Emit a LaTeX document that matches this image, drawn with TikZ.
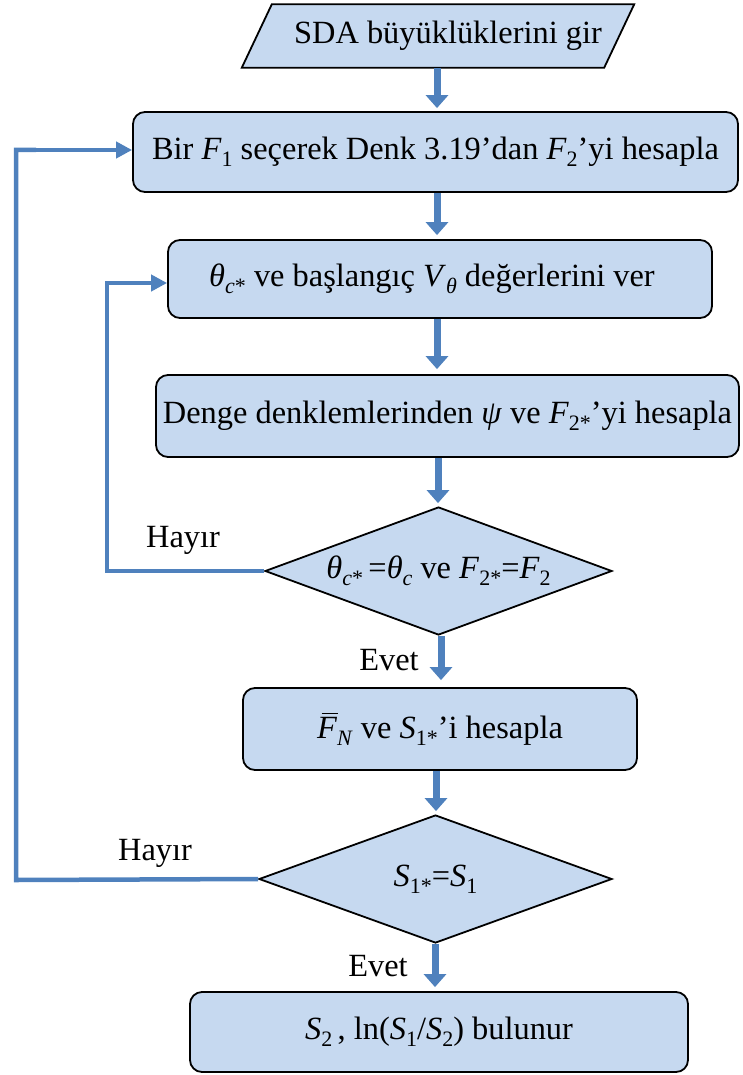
\documentclass[tikz,border=0pt]{standalone}
\usepackage{fontspec}
\setmainfont{Liberation Serif}
\usetikzlibrary{arrows.meta,shapes.geometric,calc}
\definecolor{boxfill}{RGB}{198,217,240}
\definecolor{arrowblue}{RGB}{79,129,189}
\newcommand{\lowsub}[1]{\raisebox{-0.22em}{\fontsize{22}{22}\selectfont #1}}
\newcommand{\barF}{\makebox[0pt][l]{\hspace{0.14em}\raisebox{0.74em}{\rule{0.5em}{1.6pt}}}\textit{F}}
\begin{document}
\begin{tikzpicture}[x=1pt,y=-1pt,
  every node/.style={font=\fontsize{32.4}{38}\selectfont},
  procbox/.style={draw=black,line width=1.8pt,fill=boxfill,rounded corners=12pt,inner sep=0pt},
  decbox/.style={draw=black,line width=1.8pt,fill=boxfill,diamond,inner sep=0pt},
  flowarrow/.style={draw=arrowblue,line width=7pt,-{Triangle[width=22pt,length=13pt]}},
  looparrow/.style={draw=arrowblue,line width=4.5pt,-{Triangle[width=16pt,length=16pt]}},
  loopline/.style={draw=arrowblue,line width=4.5pt},
  lbl/.style={inner sep=0pt}]
\useasboundingbox (0,0) rectangle (742,1075);

% input parallelogram
\node[inner sep=0pt,minimum width=362pt,minimum height=63pt] (inp) at (438,36) {\phantom{SDA büyüklüklerini gir}};
\draw[fill=boxfill,line width=1.8pt] ($(inp.south west)+(-15,0)$) -- ($(inp.north west)+(15,0)$) -- ($(inp.north east)+(15,0)$) -- ($(inp.south east)+(-15,0)$) -- cycle;
\node[inner sep=0pt] (inptext) at ($(inp.center)+(10,0)$) {SDA büyüklüklerini gir};

\node[procbox,minimum width=605pt,minimum height=80pt] (b1) at (435.5,152)
  {Bir \textit{F}\lowsub{1} seçerek Denk 3.19’dan \textit{F}\lowsub{2}’yi hesapla};
\node[procbox,minimum width=544pt,minimum height=78pt] (b2) at (440,279)
  {\hspace*{-16pt}\textit{θ}\lowsub{\textit{c}*} ve başlangıç \textit{V}\lowsub{\textit{θ}} değerlerini ver};
\node[procbox,minimum width=583pt,minimum height=82pt] (b3) at (447.5,416)
  {Denge denklemlerinden \textit{ψ} ve \textit{F}\lowsub{2*}’yi hesapla};
\node[decbox,minimum width=347pt,minimum height=128pt,aspect=2.71] (d1) at (438.5,571)
  {\textit{θ}\lowsub{\textit{c}*}\,=\textit{θ}\lowsub{\textit{c}} ve \textit{F}\lowsub{2*}=\textit{F}\lowsub{2}};
\node[procbox,minimum width=394pt,minimum height=82pt] (b4) at (440,729)
  {\barF\lowsub{\textit{N}} ve \textit{S}\lowsub{1*}’i hesapla};
\node[decbox,minimum width=353pt,minimum height=128pt,aspect=2.76] (d2) at (435.5,879)
  {\textit{S}\lowsub{1*}=\textit{S}\lowsub{1}};
\node[procbox,minimum width=498pt,minimum height=80pt] (b5) at (439,1032)
  {\textit{S}\lowsub{2}\,, ln(\textit{S}\lowsub{1}/\textit{S}\lowsub{2}) bulunur};

% straight flow arrows
\draw[flowarrow] (inp.south -| 437,0) -- ($(b1.north -| 437,0)+(0,-3)$);
\draw[flowarrow] (b1.south -| 437,0) -- ($(b2.north -| 437,0)+(0,-4)$);
\draw[flowarrow] (b2.south -| 437,0) -- ($(b3.north -| 437,0)+(0,-5)$);
\draw[flowarrow] (b3.south -| 438,0) -- ($(d1.north -| 438,0)+(0,-3)$);
\draw[flowarrow] (d1.south -| 441,0) -- ($(b4.north -| 441,0)+(0,-7)$);
\draw[flowarrow] (b4.south -| 436,0) -- ($(d2.north -| 436,0)+(0,-3)$);
\draw[flowarrow] (d2.south -| 435,0) -- ($(b5.north -| 435,0)+(0,-4)$);

% loops
\coordinate (c1a) at (107,571);
\coordinate (c1b) at (107,283);
\draw[loopline] (d1.west) -- (c1a) -- (c1b) -- ++(20,0);
\draw[looparrow] (c1b) -- (b2.west |- c1b);
\coordinate (c2a) at (16,880);
\coordinate (c2b) at (16,150);
\draw[loopline] (d2.west) -- (c2a) -- (c2b) -- ++(20,0);
\draw[looparrow] (c2b) -- (b1.west |- c2b);

% labels
\node[lbl] (h1) at (183,540) {Hayır};
\node[lbl] (e1) at (389,660) {Evet};
\node[lbl] (h2) at (155,853) {Hayır};
\node[lbl] (e2) at (378,966) {Evet};
\end{tikzpicture}
\end{document}
